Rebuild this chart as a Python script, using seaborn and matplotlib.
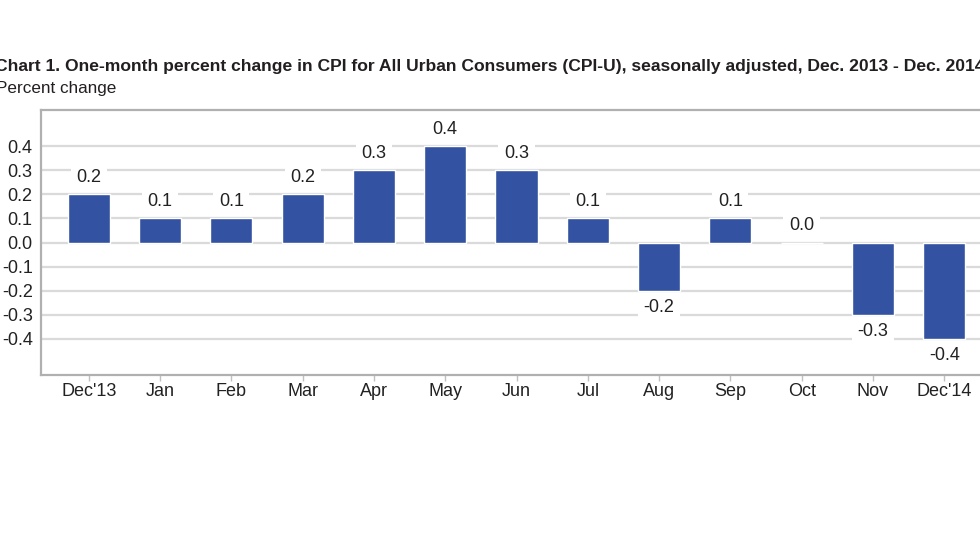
import matplotlib
matplotlib.use("Agg")
import matplotlib.pyplot as plt
import seaborn as sns
import pandas as pd

months = ["Dec'13", "Jan", "Feb", "Mar", "Apr", "May", "Jun", "Jul", "Aug", "Sep", "Oct", "Nov", "Dec'14"]
values = [0.2, 0.1, 0.1, 0.2, 0.3, 0.4, 0.3, 0.1, -0.2, 0.1, 0.0, -0.3, -0.4]
yticks = [0.4, 0.3, 0.2, 0.1, 0.0, -0.1, -0.2, -0.3, -0.4]
title = "Chart 1. One-month percent change in CPI for All Urban Consumers (CPI-U), seasonally adjusted, Dec. 2013 - Dec. 2014"
ylabel = "Percent change"

sns.set_theme(style="white")
plt.rcParams['font.family'] = ['Liberation Sans', 'DejaVu Sans']

df = pd.DataFrame({"month": months, "value": values})

fig = plt.figure(figsize=(9.8, 5.52), dpi=100)
ax = fig.add_axes([41/980, 1 - 375/552, (992 - 41)/980, (375 - 110)/552])

bar_color = "#3352a1"
sns.barplot(data=df, x="month", y="value", color=bar_color, width=0.59,
            saturation=1, ax=ax, zorder=3)

ax.set_xlim(-0.67, len(months) - 0.33)
ax.set_ylim(-0.55, 0.55)
ax.set_yticks(yticks)
ax.set_yticklabels([f"{t:.1f}" for t in yticks])
ax.grid(axis="y", color="#dadada", linewidth=1.6, zorder=0)
ax.set_axisbelow(True)

for s in ["left", "bottom", "top"]:
    ax.spines[s].set_visible(True)
    ax.spines[s].set_color("#b0b0b0")
    ax.spines[s].set_linewidth(1.6)
ax.spines["right"].set_visible(False)

ax.tick_params(axis="y", length=0, labelsize=13, labelcolor="#222222", pad=6)
ax.tick_params(axis="x", bottom=True, length=4, width=1, color="#c0c0c0",
               labelsize=13, labelcolor="#222222", pad=2)
ax.set_xlabel("")
ax.set_ylabel("")

for i, v in enumerate(values):
    off = 12 if v >= 0 else -12
    ax.annotate(f"{v:.1f}", xy=(i, v), xytext=(0, off), textcoords="offset points",
                ha="center", va="center", fontsize=13, color="#222222", zorder=5,
                bbox=dict(facecolor="white", edgecolor="none", pad=4))

fig.text(-5/980, 1 - 66/552, title, fontsize=12.6, fontweight="bold", color="#231f20",
         ha="left", va="center")
fig.text(-4/980, 1 - 88/552, ylabel, fontsize=12.3, color="#231f20", ha="left", va="center")

fig.savefig("out.png", dpi=100)
